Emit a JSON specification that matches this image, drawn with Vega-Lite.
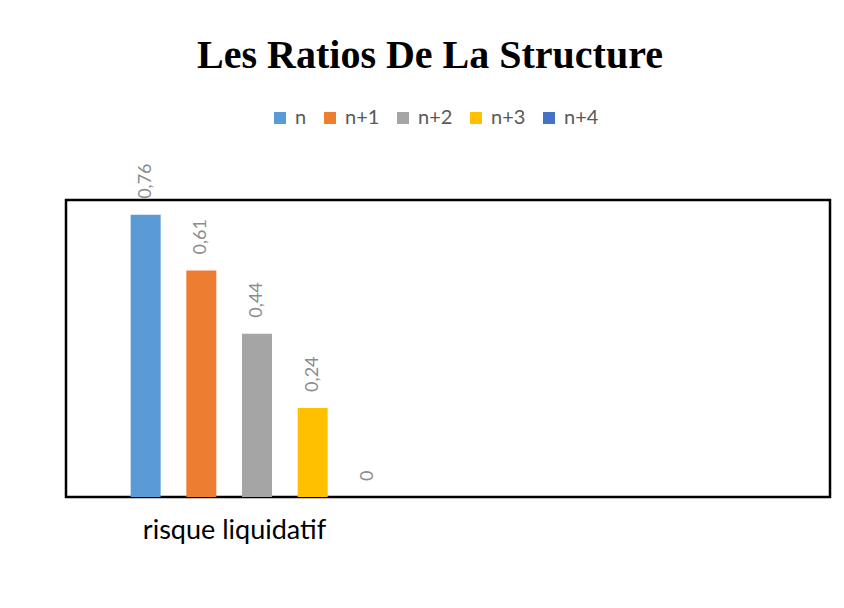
{
  "$schema": "https://vega.github.io/schema/vega-lite/v6.json",
  "width": 764,
  "height": 297,
  "autosize": {"type": "none"},
  "padding": {"left": 66, "top": 200, "right": 14, "bottom": 111},
  "background": "white",
  "title": {
    "text": "Les Ratios De La Structure",
    "font": "Liberation Serif",
    "fontSize": 40,
    "fontWeight": "bold",
    "color": "black",
    "anchor": "middle",
    "frame": "group",
    "baseline": "alphabetic",
    "offset": 0,
    "dx": -18
  },
  "data": {
    "values": [
      {"categorie": "risque liquidatif", "serie": "n", "valeur": 0.76},
      {"categorie": "risque liquidatif", "serie": "n+1", "valeur": 0.61},
      {"categorie": "risque liquidatif", "serie": "n+2", "valeur": 0.44},
      {"categorie": "risque liquidatif", "serie": "n+3", "valeur": 0.24},
      {"categorie": "risque liquidatif", "serie": "n+4", "valeur": 0}
    ]
  },
  "encoding": {
    "x": {
      "field": "categorie",
      "type": "nominal",
      "scale": {"domain": ["risque liquidatif", "_"], "paddingInner": 0, "paddingOuter": 0},
      "axis": {
        "title": null,
        "domain": false,
        "ticks": false,
        "labelAngle": 0,
        "labelFont": "Lato",
        "labelFontSize": 27,
        "labelColor": "black",
        "labelPadding": 20,
        "labelOffset": -22.5,
        "labelLimit": 400,
        "labelExpr": "datum.value == 'risque liquidatif' ? datum.label : ''"
      }
    },
    "xOffset": {
      "field": "serie",
      "type": "nominal",
      "scale": {"domain": ["_a", "n", "n+1", "n+2", "n+3", "n+4", "_b"], "paddingInner": 0.461, "paddingOuter": 0.161}
    },
    "y": {
      "field": "valeur",
      "type": "quantitative",
      "scale": {"domain": [0, 0.8], "nice": false, "zero": true},
      "axis": null
    }
  },
  "layer": [
    {
      "mark": {"type": "bar"},
      "encoding": {
        "color": {
          "field": "serie",
          "type": "nominal",
          "scale": {
            "domain": ["n", "n+1", "n+2", "n+3", "n+4"],
            "range": ["#5B9BD5", "#ED7D31", "#A5A5A5", "#FFC000", "#4472C4"]
          },
          "legend": {
            "orient": "none",
            "legendX": 204,
            "legendY": -92,
            "direction": "horizontal",
            "title": null,
            "symbolType": "square",
            "symbolSize": 144,
            "symbolStrokeWidth": 0,
            "labelFont": "Lato",
            "labelFontSize": 20,
            "labelColor": "#595959",
            "labelOffset": 5,
            "columnPadding": 13
          }
        }
      }
    },
    {
      "mark": {
        "type": "text",
        "angle": 270,
        "align": "left",
        "baseline": "middle",
        "dx": 16,
        "font": "Lato",
        "fontSize": 18,
        "color": "#8c8c8c"
      },
      "encoding": {
        "text": {"field": "valeur", "type": "quantitative", "format": ".2~f"}
      }
    }
  ],
  "config": {
    "locale": {"number": {"decimal": ",", "thousands": " ", "grouping": [3], "currency": ["", " €"]}},
    "view": {"stroke": "black", "strokeWidth": 2.5}
  }
}
